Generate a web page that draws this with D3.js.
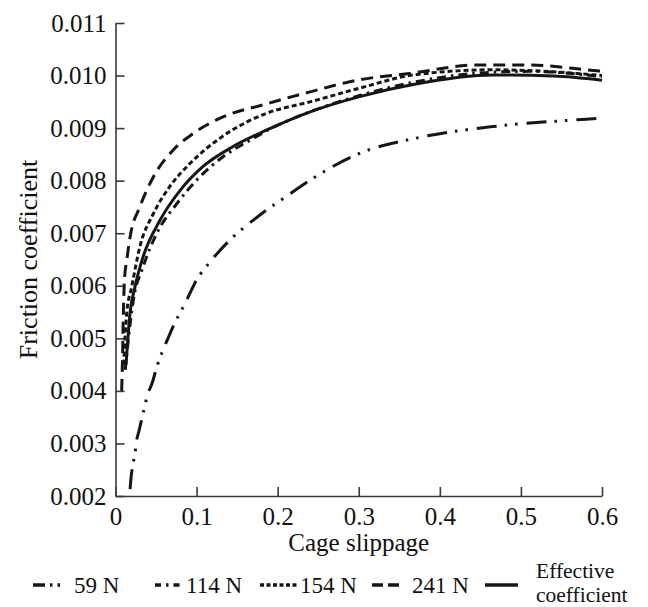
<!DOCTYPE html>
<html>
<head>
<meta charset="utf-8">
<script src="https://cdn.jsdelivr.net/npm/d3@7"></script>
<style>
  html, body { margin: 0; padding: 0; background: #fff; }
  svg text { font-family: "Liberation Serif", Tinos, "Times New Roman", Times, "DejaVu Serif", serif; }
</style>
</head>
<body>
<svg id="chart" width="648" height="607"></svg>
<script>
// ---- data ----
const xTicks = [0, 0.1, 0.2, 0.3, 0.4, 0.5, 0.6];
const yTicks = [0.002, 0.003, 0.004, 0.005, 0.006, 0.007, 0.008, 0.009, 0.010, 0.011];

const slip59 = [0.018,0.019,0.021,0.024,0.026,0.029,0.034,0.040,0.045,0.051,0.060,0.065,0.073,0.086,0.100,0.117,0.141,0.170,0.186,0.207,0.244,0.301,0.371,0.466,0.581,0.600];
const fric59 = [0.00213,0.00232,0.00256,0.00281,0.00305,0.00324,0.00357,0.00395,0.00414,0.00446,0.00483,0.00501,0.00529,0.00567,0.00611,0.00646,0.00687,0.00725,0.00744,0.00766,0.00805,0.00852,0.00881,0.00903,0.00917,0.00919];

const slip114 = [0.012,0.016,0.022,0.034,0.051,0.076,0.100,0.133,0.166,0.190,0.240,0.301,0.370,0.450,0.510,0.600];
const fric114 = [0.00440,0.00500,0.00573,0.00636,0.00700,0.00757,0.00801,0.00846,0.00877,0.00898,0.00931,0.00962,0.00988,0.01005,0.01008,0.00998];

const slip154 = [0.010,0.0138,0.020,0.030,0.047,0.067,0.092,0.129,0.186,0.240,0.301,0.367,0.465,0.569,0.600];
const fric154 = [0.00450,0.00548,0.00598,0.00674,0.00738,0.00789,0.00833,0.00881,0.00928,0.00950,0.00976,0.01001,0.01011,0.01004,0.01000];

const slip241 = [0.0076,0.0085,0.0096,0.011,0.014,0.018,0.030,0.047,0.071,0.096,0.129,0.186,0.240,0.301,0.363,0.445,0.507,0.581,0.600];
const fric241 = [0.00400,0.00450,0.00540,0.00611,0.00650,0.00693,0.00750,0.00808,0.00858,0.00890,0.00919,0.00946,0.00969,0.00992,0.01004,0.01020,0.01020,0.01011,0.01008];

const slipEff = [0.013,0.0179,0.024,0.034,0.055,0.080,0.108,0.145,0.186,0.240,0.301,0.367,0.466,0.540,0.600];
const fricEff = [0.00450,0.00548,0.00598,0.00655,0.00725,0.00782,0.00827,0.00865,0.00896,0.00931,0.00960,0.00983,0.01001,0.00999,0.00991];

const seriesNames = ["59 N", "114 N", "154 N", "241 N", "Effective coefficient"];

// ---- styles ----
const styles = {
  "59 N":  { dash: "20,8,2.5,8,2.5,9", width: 3 },
  "114 N": { dash: "9,5,2.5,5", width: 3 },
  "154 N": { dash: "5,3", width: 3 },
  "241 N": { dash: "12,7", width: 3 },
  "Effective coefficient": { dash: null, width: 3 }
};

const series = [
  { name: "59 N", xs: slip59, ys: fric59 },
  { name: "114 N", xs: slip114, ys: fric114 },
  { name: "154 N", xs: slip154, ys: fric154 },
  { name: "241 N", xs: slip241, ys: fric241 },
  { name: "Effective coefficient", xs: slipEff, ys: fricEff }
];

const FONT = '"Liberation Serif", Tinos, "Times New Roman", Times, "DejaVu Serif", serif';

const svg = d3.select("#chart").attr("font-family", FONT);
const mLeft = 115.5, mRight = 602, mTop = 23, mBottom = 496;

const x = d3.scaleLinear().domain([0, 0.6]).range([mLeft, mRight]);
const y = d3.scaleLinear().domain([0.002, 0.011]).range([mBottom, mTop]);

const ink = "#161616";
const axisColor = "#3a3a3a";

// axes
const xAxis = d3.axisBottom(x).tickValues(xTicks)
  .tickFormat(d => d === 0 ? "0" : d3.format(".1f")(d))
  .tickSizeInner(-9).tickSizeOuter(0).tickPadding(11);
const yAxis = d3.axisLeft(y).tickValues(yTicks)
  .tickFormat(d3.format(".3f"))
  .tickSizeInner(-9).tickSizeOuter(0).tickPadding(9);

const gx = svg.append("g").attr("transform", `translate(0,${mBottom})`).call(xAxis);
const gy = svg.append("g").attr("transform", `translate(${mLeft},0)`).call(yAxis);

[gx, gy].forEach(g => {
  g.attr("font-family", FONT).attr("font-size", 25);
  g.select(".domain").attr("stroke", axisColor).attr("stroke-width", 1.6);
  g.selectAll(".tick line").attr("stroke", axisColor).attr("stroke-width", 1.6);
  g.selectAll(".tick text").attr("fill", "#111");
});

// axis titles
svg.append("text")
  .attr("x", (mLeft + mRight) / 2).attr("y", 551)
  .attr("text-anchor", "middle")
  .attr("font-size", 25).attr("fill", "#111")
  .text("Cage slippage");

svg.append("text")
  .attr("transform", `translate(37,${(mTop + mBottom) / 2}) rotate(-90)`)
  .attr("text-anchor", "middle")
  .attr("font-size", 26).attr("fill", "#111")
  .text("Friction coefficient");

// curves
const line = d3.line()
  .x(d => x(d[0])).y(d => y(d[1]))
  .curve(d3.curveMonotoneX);

series.forEach(s => {
  const pts = s.xs.map((v, i) => [v, s.ys[i]]);
  const st = styles[s.name];
  svg.append("path")
    .datum(pts)
    .attr("d", line)
    .attr("fill", "none")
    .attr("stroke", ink)
    .attr("stroke-width", st.width)
    .attr("stroke-dasharray", st.dash)
    .attr("stroke-linejoin", "round");
});

// legend
const legendY = 585;
const legendItems = [
  { name: "59 N", x1: 33, x2: 62, tx: 74, dash: "12,5,2.5,5,2.5,5" },
  { name: "114 N", x1: 155, x2: 183, tx: 186, dash: "6,5,2.5,5" },
  { name: "154 N", x1: 260, x2: 297, tx: 300, dash: "4,2.5" },
  { name: "241 N", x1: 372, x2: 399, tx: 412, dash: "11,5" },
  { name: "Effective coefficient", x1: 485, x2: 518, tx: 536, dash: null }
];
const lg = svg.append("g");
legendItems.forEach(it => {
  lg.append("line")
    .attr("x1", it.x1).attr("x2", it.x2)
    .attr("y1", legendY).attr("y2", legendY)
    .attr("stroke", ink).attr("stroke-width", 3.5)
    .attr("stroke-dasharray", it.dash);
  if (it.name === "Effective coefficient") {
    const t = lg.append("text").attr("x", it.tx).attr("font-size", 21.5).attr("fill", "#111");
    t.append("tspan").attr("x", it.tx).attr("y", 577.5).text("Effective");
    t.append("tspan").attr("x", it.tx).attr("y", 601.5).text("coefficient");
  } else {
    lg.append("text").attr("x", it.tx).attr("y", 593)
      .attr("font-size", 23).attr("fill", "#111")
      .text(it.name);
  }
});
</script>
</body>
</html>
